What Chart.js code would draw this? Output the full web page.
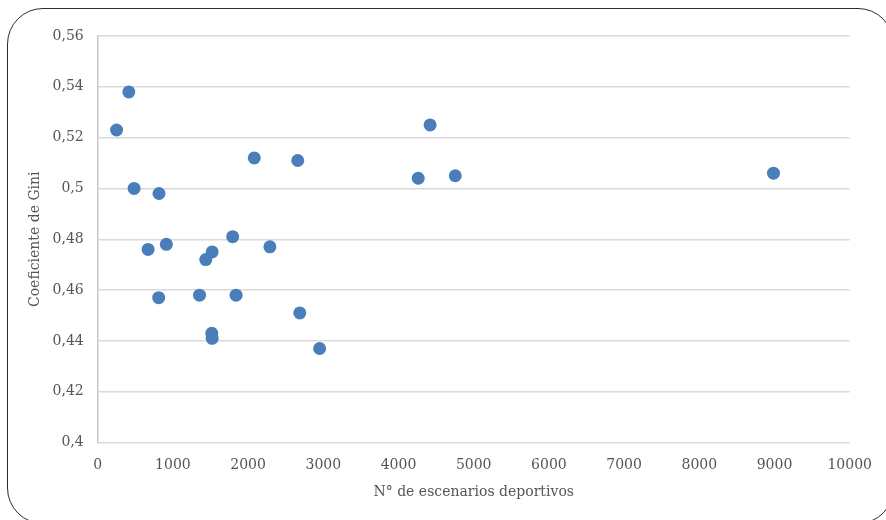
<!DOCTYPE html>
<html>
<head>
<meta charset="utf-8">
<script src="https://cdn.jsdelivr.net/npm/chart.js@4.4.1/dist/chart.umd.min.js"></script>
<style>
  html, body { margin: 0; padding: 0; background: #fff; }
  #wrap { position: relative; width: 886px; height: 520px; overflow: hidden; }
  #frame {
    position: absolute; left: 7px; top: 8px; width: 887px; height: 516px;
    border: 1.3px solid #2b2b2b; border-radius: 36px; box-sizing: border-box;
  }
  canvas { position: absolute; left: 0; top: 0; }
</style>
</head>
<body>
<div id="wrap">
  <div id="frame"></div>
  <canvas id="chart" width="886" height="520"></canvas>
</div>
<script>
// Number of sports venues per municipality vs. its Gini coefficient
const escenarios = [414, 251, 484, 815, 670, 913, 811, 1437, 1522, 1795, 2290, 1354,
                    1840, 1517, 1522, 2687, 2951, 2082, 2660, 4420, 4262, 4755, 8986];
const gini = [0.538, 0.523, 0.500, 0.498, 0.476, 0.478, 0.457, 0.472, 0.475, 0.481, 0.477, 0.458,
              0.458, 0.443, 0.441, 0.451, 0.437, 0.512, 0.511, 0.525, 0.504, 0.505, 0.506];

const xTitle = 'N° de escenarios deportivos';
const yTitle = 'Coeficiente de Gini';

const points = escenarios.map((x, i) => ({ x: x, y: gini[i] }));

const serif = 'DejaVu Serif';
const textColor = '#555555';

new Chart(document.getElementById('chart'), {
  type: 'scatter',
  data: {
    datasets: [{
      data: points,
      backgroundColor: '#4A7EBB',
      borderColor: '#4A7EBB',
      pointRadius: 6.5,
      pointHoverRadius: 6.5,
      borderWidth: 0
    }]
  },
  options: {
    responsive: false,
    animation: false,
    layout: { padding: { left: 0, top: 36, right: 32.7, bottom: 0 } },
    plugins: { legend: { display: false }, tooltip: { enabled: false } },
    scales: {
      x: {
        type: 'linear',
        min: 0, max: 10000,
        afterFit: (s) => { s.height = 77.5; },
        ticks: {
          stepSize: 1000,
          padding: 14,
          color: textColor,
          font: { family: serif, size: 14 },
          maxRotation: 0,
          callback: (v) => String(v)
        },
        grid: { display: false, drawTicks: false },
        border: { display: false },
        title: {
          display: true,
          text: xTitle,
          color: textColor,
          font: { family: serif, size: 14 },
          padding: 19
        }
      },
      y: {
        type: 'linear',
        min: 0.4, max: 0.56,
        afterFit: (s) => { s.width = 97.7; },
        ticks: {
          stepSize: 0.02,
          padding: 14,
          color: textColor,
          font: { family: serif, size: 14 },
          callback: (v) => String(Math.round(v * 100) / 100).replace('.', ',')
        },
        grid: { color: '#d9d9d9', lineWidth: 1.5, drawTicks: false },
        border: { display: true, color: '#c8c8c8', width: 1.5 },
        title: {
          display: true,
          text: yTitle,
          color: textColor,
          font: { family: serif, size: 14 },
          padding: 27
        }
      }
    }
  }
});
</script>
</body>
</html>
